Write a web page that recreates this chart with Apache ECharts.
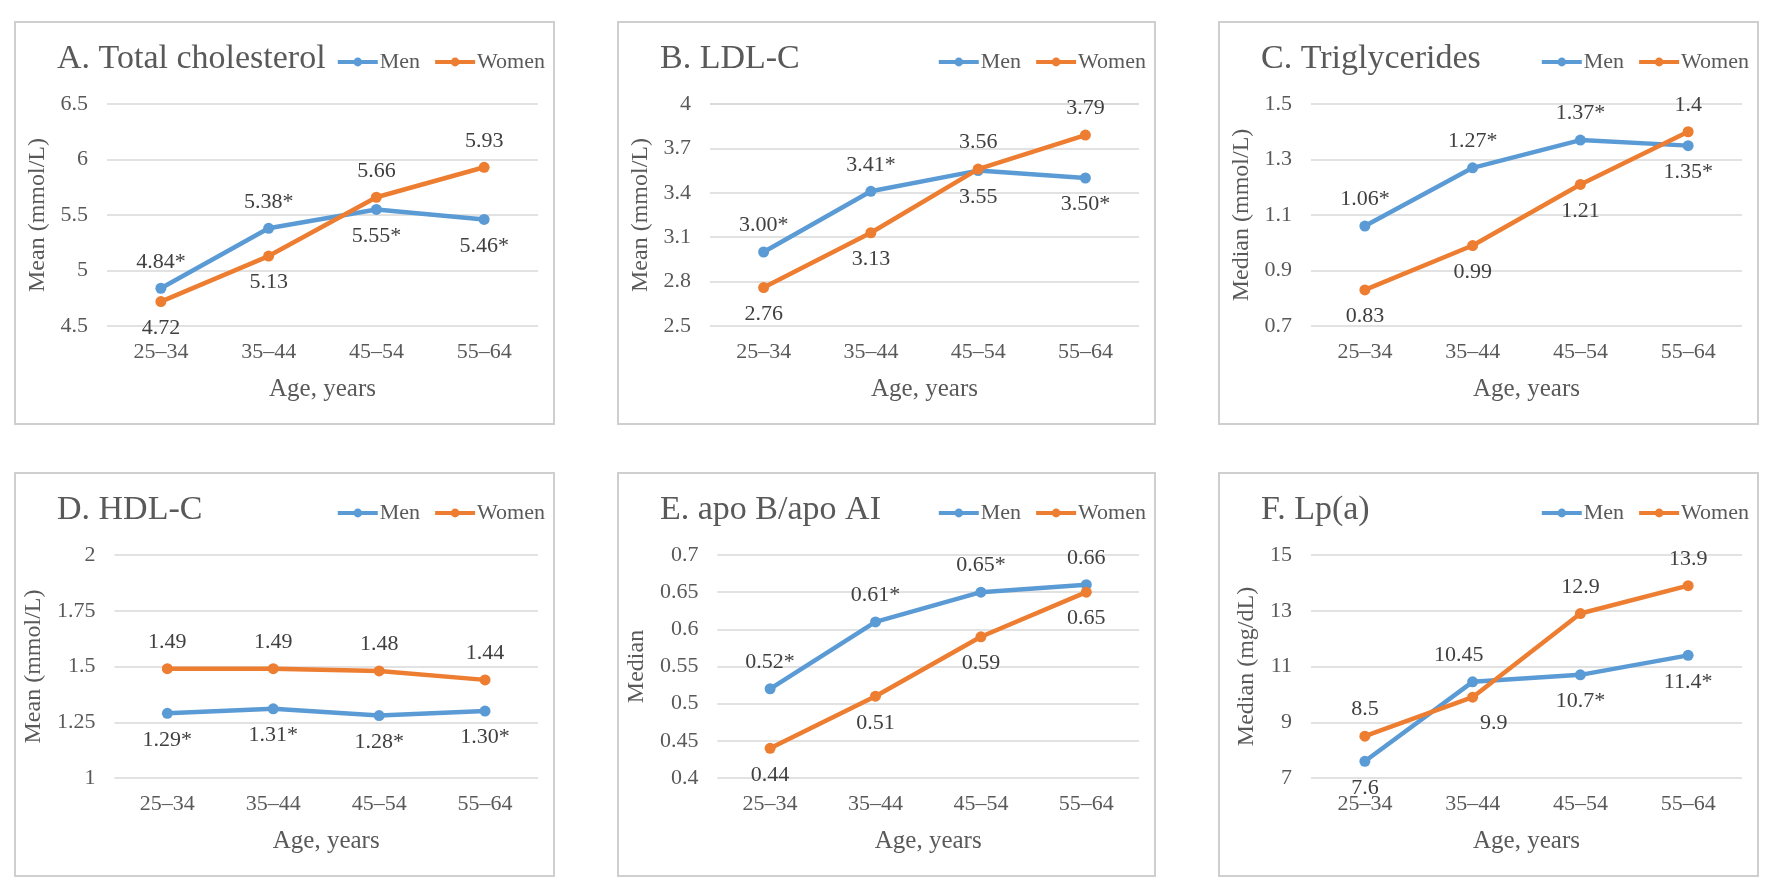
<!DOCTYPE html>
<html>
<head>
<meta charset="utf-8">
<script src="https://cdn.jsdelivr.net/npm/echarts@6/dist/echarts.min.js"></script>
<style>
  html, body { margin: 0; padding: 0; background: #ffffff; }
  body { width: 1773px; height: 894px; position: relative; overflow: hidden; }
  .frame { position: absolute; box-sizing: border-box; border: 2px solid #cfcfcf; }
  .chart { position: absolute; }
</style>
</head>
<body>
<script>
// ---------- data ----------
const categories = ['25–34', '35–44', '45–54', '55–64'];

const menA = [4.84, 5.38, 5.55, 5.46];
const womenA = [4.72, 5.13, 5.66, 5.93];
const menLabelsA = ['4.84*', '5.38*', '5.55*', '5.46*'];
const womenLabelsA = ['4.72', '5.13', '5.66', '5.93'];
const ticksA = [4.5, 5, 5.5, 6, 6.5];

const menB = [3.00, 3.41, 3.55, 3.50];
const womenB = [2.76, 3.13, 3.56, 3.79];
const menLabelsB = ['3.00*', '3.41*', '3.55', '3.50*'];
const womenLabelsB = ['2.76', '3.13', '3.56', '3.79'];
const ticksB = [2.5, 2.8, 3.1, 3.4, 3.7, 4];

const menC = [1.06, 1.27, 1.37, 1.35];
const womenC = [0.83, 0.99, 1.21, 1.40];
const menLabelsC = ['1.06*', '1.27*', '1.37*', '1.35*'];
const womenLabelsC = ['0.83', '0.99', '1.21', '1.4'];
const ticksC = [0.7, 0.9, 1.1, 1.3, 1.5];

const menD = [1.29, 1.31, 1.28, 1.30];
const womenD = [1.49, 1.49, 1.48, 1.44];
const menLabelsD = ['1.29*', '1.31*', '1.28*', '1.30*'];
const womenLabelsD = ['1.49', '1.49', '1.48', '1.44'];
const ticksD = [1, 1.25, 1.5, 1.75, 2];

const menE = [0.52, 0.61, 0.65, 0.66];
const womenE = [0.44, 0.51, 0.59, 0.65];
const menLabelsE = ['0.52*', '0.61*', '0.65*', '0.66'];
const womenLabelsE = ['0.44', '0.51', '0.59', '0.65'];
const ticksE = [0.4, 0.45, 0.5, 0.55, 0.6, 0.65, 0.7];

const menF = [7.6, 10.45, 10.7, 11.4];
const womenF = [8.5, 9.9, 12.9, 13.9];
const menLabelsF = ['7.6', '10.45', '10.7*', '11.4*'];
const womenLabelsF = ['8.5', '9.9', '12.9', '13.9'];
const ticksF = [7, 9, 11, 13, 15];

const seriesNames = ['Men', 'Women'];
const xAxisName = 'Age, years';

// ---------- layout / style (not data) ----------
const FONT = '"Liberation Serif", "Times New Roman", serif';
const COLORS = ['#5B9BD5', '#ED7D31'];
const TEXT = '#595959';
const colLeft = [14, 617, 1218];
const colWidth = [541, 539, 541];
const rowTop = [21, 472];
const rowHeight = [404, 405];

const T = 'top', B = 'bottom';
const panels = [
  { title: 'A. Total cholesterol', yName: 'Mean (mmol/L)', ticks: ticksA, men: menA, women: womenA,
    menLabels: menLabelsA, womenLabels: womenLabelsA, nameGap: 54,
    menPos: [T, T, B, B], womenPos: [B, B, T, T] },
  { title: 'B. LDL-C', yName: 'Mean (mmol/L)', ticks: ticksB, men: menB, women: womenB,
    menLabels: menLabelsB, womenLabels: womenLabelsB, nameGap: 56,
    menPos: [T, T, B, B], womenPos: [B, B, T, T] },
  { title: 'C. Triglycerides', yName: 'Median (mmol/L)', ticks: ticksC, men: menC, women: womenC,
    menLabels: menLabelsC, womenLabels: womenLabelsC, nameGap: 55,
    menPos: [T, T, T, B], womenPos: [B, B, B, T] },
  { title: 'D. HDL-C', yName: 'Mean (mmol/L)', ticks: ticksD, men: menD, women: womenD,
    menLabels: menLabelsD, womenLabels: womenLabelsD, nameGap: 62,
    menPos: [B, B, B, B], womenPos: [T, T, T, T] },
  { title: 'E. apo B/apo AI', yName: 'Median', ticks: ticksE, men: menE, women: womenE,
    menLabels: menLabelsE, womenLabels: womenLabelsE, nameGap: 62,
    menPos: [T, T, T, T], womenPos: [B, B, B, B] },
  { title: 'F. Lp(a)', yName: 'Median (mg/dL)', ticks: ticksF, men: menF, women: womenF,
    menLabels: menLabelsF, womenLabels: womenLabelsF, nameGap: 48,
    menPos: [B, T, B, B], womenPos: [T, B, T, T],
    menOffset: [null, [-14, 0], null, null], womenOffset: [null, [21, 0], null, null] }
];

function buildSeries(name, idx, values, labels, pos, offsets) {
  return {
    name: name,
    type: 'line',
    data: values.map((v, i) => {
      const lab = { position: pos[i] };
      if (offsets && offsets[i]) lab.offset = offsets[i];
      return { value: v, label: lab };
    }),
    symbol: 'circle',
    symbolSize: 11,
    color: COLORS[idx],
    lineStyle: { width: 4.5, color: COLORS[idx] },
    itemStyle: { color: COLORS[idx] },
    label: {
      show: true,
      distance: 10,
      fontFamily: FONT,
      fontSize: 22,
      color: '#404040',
      formatter: p => labels[p.dataIndex]
    },
    z: 2 + idx,
    animation: false
  };
}

panels.forEach((p, k) => {
  const r = Math.floor(k / 3), c = k % 3;
  const frame = document.createElement('div');
  frame.className = 'frame';
  Object.assign(frame.style, { left: colLeft[c] + 'px', top: rowTop[r] + 'px',
    width: colWidth[c] + 'px', height: rowHeight[r] + 'px' });
  document.body.appendChild(frame);
  const el = document.createElement('div');
  el.className = 'chart';
  Object.assign(el.style, { left: colLeft[c] + 'px', top: rowTop[r] + 'px',
    width: colWidth[c] + 'px', height: rowHeight[r] + 'px' });
  document.body.appendChild(el);

  const ticks = p.ticks;
  const chart = echarts.init(el, null, { renderer: 'canvas' });
  chart.setOption({
    animation: false,
    textStyle: { fontFamily: FONT },
    title: {
      text: p.title, left: 43, top: 21, padding: 0,
      textStyle: { fontFamily: FONT, fontSize: 34, fontWeight: 'normal', color: TEXT }
    },
    legend: {
      data: seriesNames, right: 10, top: 30, padding: 0,
      itemWidth: 40, itemHeight: 11, itemGap: 13,
      lineStyle: { width: 4 },
      textStyle: { fontFamily: FONT, fontSize: 22, color: TEXT, padding: [0, 0, 0, -3] }
    },
    grid: { left: 93, right: 17, top: 83, bottom: 99 },
    xAxis: {
      type: 'category', data: categories, boundaryGap: true,
      axisLine: { show: false }, axisTick: { show: false },
      axisLabel: { fontFamily: FONT, fontSize: 22, color: TEXT, margin: 15 },
      name: xAxisName, nameLocation: 'middle', nameGap: 51,
      nameTextStyle: { fontFamily: FONT, fontSize: 25, color: TEXT }
    },
    yAxis: {
      type: 'value', min: ticks[0], max: ticks[ticks.length - 1],
      interval: ticks[1] - ticks[0],
      axisLine: { show: false }, axisTick: { show: false },
      axisLabel: { fontFamily: FONT, fontSize: 22, color: TEXT, margin: 19,
        formatter: v => String(+v.toFixed(2)) },
      splitLine: { lineStyle: { color: '#d9d9d9', width: 1.5 } },
      name: p.yName, nameLocation: 'middle', nameGap: p.nameGap,
      nameTextStyle: { fontFamily: FONT, fontSize: 24, color: TEXT }
    },
    series: [
      buildSeries(seriesNames[0], 0, p.men, p.menLabels, p.menPos, p.menOffset),
      buildSeries(seriesNames[1], 1, p.women, p.womenLabels, p.womenPos, p.womenOffset)
    ]
  });
});
</script>
</body>
</html>
